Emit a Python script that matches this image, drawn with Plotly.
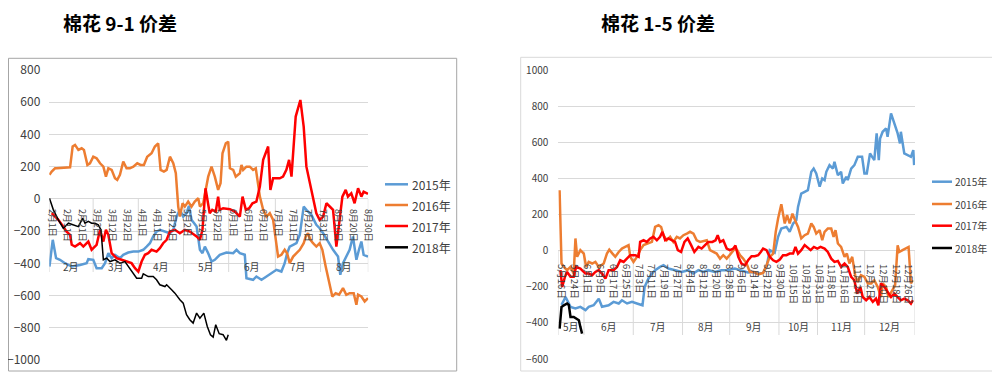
import plotly.graph_objects as go

# ---------------- data: left chart (棉花 9-1 价差), x = day offset from 2月1日 ----------------
l_date_labels = ['2月1日', '2月11日', '2月21日', '3月2日', '3月12日', '3月22日', '4月1日', '4月11日',
                 '4月21日', '5月2日', '5月12日', '5月22日', '6月1日', '6月11日', '6月21日', '7月1日',
                 '7月11日', '7月21日', '7月31日', '8月10日', '8月20日', '8月30日']
l_label_step = 10
l_months = ['2月', '3月', '4月', '5月', '6月', '7月', '8月']
l_month_edges = [-1.6, 27.5, 57.5, 87.5, 117.5, 148.5, 178.5, 210.2]

l_x_2015 = [-1.5, 0.7, 2.9, 5.5, 8.8, 13.3, 18.8, 23.2, 24.3, 27.6, 29.8, 33.2, 35.4, 37.6, 39.8, 42, 45.3,
            47.5, 50.8, 54.2, 57.5, 60.8, 63, 65.2, 67.4, 69.6, 71.8, 75.2, 78.5, 80.7, 82.9, 85.1, 87.3, 89.5,
            91.1, 92.8, 96.2, 98.4, 100.1, 101.7, 103.9, 106.1, 108.3, 111.6, 116, 120.5, 122.7, 124.9, 128.2,
            129.3, 133.7, 135.9, 139.3, 142.6, 145.9, 149.2, 152.5, 154.7, 156.3, 158, 160.3, 162.5, 164.7,
            167.3, 169.1, 172.4, 175.7, 177.9, 180.2, 183.5, 186.8, 190.1, 191.6, 193.4, 195.6, 197.8, 200,
            202.3, 204, 205.6, 207.1, 210]
l_y_2015 = [-420, -254, -368, -378, -399, -420, -410, -399, -374, -378, -430, -430, -399, -337, -368, -347,
            -368, -347, -333, -327, -327, -316, -296, -275, -233, -203, -192, -203, -213, -192, -110, -68,
            -110, -89, -43, -130, -172, -316, -337, -296, -337, -389, -378, -347, -333, -337, -316, -337,
            -347, -492, -502, -482, -502, -482, -461, -440, -451, -399, -337, -296, -285, -275, -223, -48,
            -68, -99, -161, -182, -213, -265, -316, -358, -471, -399, -358, -316, -233, -378, -316, -265,
            -347, -358]

l_x_2016 = [-1.5, 0, 2.2, 3.3, 12.2, 13.9, 15.5, 17.7, 19.9, 21.4, 23.7, 25.4, 27.6, 29.8, 32.1, 34.3, 36,
            37.6, 39.8, 42, 43.5, 45.3, 47.5, 49.7, 51.9, 54.2, 56.8, 59, 61.2, 63.4, 66.3, 68.5, 70.7, 72.3,
            74.5, 76.3, 78.5, 80.7, 82.4, 84, 85.1, 86.9, 88.4, 90.6, 92.8, 95, 97.3, 98.4, 100.6, 102.3,
            103.9, 106.1, 108.3, 110.5, 112.1, 113.4, 115.6, 117.2, 118.3, 120.5, 122.2, 124.9, 126, 127.1,
            129.3, 131.5, 133.7, 135.5, 137, 138.2, 140.4, 142.6, 144.8, 147, 148.8, 150.3, 152.5, 154.7,
            156.3, 158, 160.3, 162.5, 164.7, 167.3, 168.7, 170.2, 171.8, 173.5, 175.7, 177.9, 179.7, 181.9,
            184.6, 186.3, 188.5, 190.8, 193.4, 195.6, 197.8, 200.5, 202.3, 203.4, 205.6, 207.8, 210]
l_y_2016 = [149, 170, 190, 190, 196, 325, 335, 304, 314, 304, 211, 221, 262, 252, 221, 200, 138, 190, 180,
            128, 118, 149, 232, 190, 190, 200, 221, 211, 211, 262, 283, 325, 345, 180, 170, 180, 262, 221,
            159, -48, -110, -27, -48, -17, -48, -17, 4, -48, -27, 56, 138, 200, 138, 56, 97, 283, 345, 355,
            190, 180, 138, 159, 211, 180, 200, 200, 180, 190, 97, 14, -68, -110, -89, -130, -254, -358, -347,
            -316, -337, -399, -358, -337, -316, -275, -233, -213, -254, -275, -296, -275, -316, -420, -544,
            -606, -585, -595, -554, -595, -585, -585, -657, -595, -606, -637, -616]

l_x_2017 = [0, 4.4, 7.7, 9.9, 12.2, 13.3, 15.5, 18.8, 21, 24.3, 26.5, 29.8, 32.1, 33.2, 34.3, 36, 37.6, 39.8,
            43.1, 46.4, 49.7, 53, 55.3, 57.5, 59.7, 61.9, 64.1, 66.3, 69.6, 71.8, 74, 76.3, 78.5, 81.8, 85.1,
            88.4, 91.7, 96.2, 98.4, 100.1, 102.1, 103.4, 104.9, 106.6, 108.9, 110.5, 111.6, 113.8, 118.3,
            121.6, 124.9, 126.7, 128.9, 131.1, 133.3, 135.9, 138.2, 140.4, 143.7, 145.2, 147, 151.4, 153.6,
            155.8, 157.6, 159.2, 160.3, 162, 165.1, 167.3, 169.1, 171.3, 173.5, 175.7, 177.9, 180.2, 182.4,
            184.6, 186.8, 189, 190.8, 193, 195.2, 196.7, 198.9, 201.1, 203.4, 205.6, 207.1, 210]
l_y_2017 = [-89, -130, -172, -203, -223, -285, -296, -275, -296, -265, -316, -285, -192, -233, -265, -192,
            -223, -337, -368, -378, -389, -399, -430, -451, -389, -347, -337, -316, -327, -306, -275, -254,
            -203, -192, -213, -192, -203, -233, -254, -192, 66, -6, -89, -68, -79, 14, -68, -58, -64, -79,
            -110, 14, -68, -58, -27, -17, 76, 242, 325, 56, 128, 128, 138, 180, 242, 138, 304, 511, 614, 449,
            200, 97, 14, -89, -130, -110, -27, -48, -68, -296, -151, 14, 56, 14, 35, -27, 66, 14, 45, 31]

l_x_2018 = [-1.5, 1.1, 4.4, 7.7, 11.1, 14.4, 17.7, 20.6, 22.1, 24.3, 26.5, 28.7, 30.9, 32.7, 34.3, 36.5,
            38.7, 42, 45.3, 48.6, 51.9, 54.2, 56.4, 59.7, 60.8, 64.1, 67.4, 69.6, 71.8, 75.2, 76.3, 79.6,
            81.8, 85.1, 87.3, 89.5, 91.7, 93.9, 96.2, 98.4, 101, 103.3, 105.4, 107.2, 108.9, 111.2, 113.8,
            116, 117.2]
l_y_2018 = [4, -68, -130, -182, -151, -161, -172, -120, -151, -140, -151, -151, -161, -192, -378, -368,
            -389, -378, -399, -389, -430, -461, -492, -492, -465, -482, -482, -502, -533, -544, -533, -564,
            -585, -626, -647, -719, -750, -771, -709, -740, -709, -792, -843, -858, -781, -837, -843, -878,
            -843]

# ---------------- data: right chart (棉花 1-5 价差), x = trading-day index from 5月16日 ----------------
r_date_labels = ['5月16日', '5月24日', '6月1日', '6月9日', '6月17日', '6月25日', '7月3日', '7月11日',
                 '7月19日', '7月27日', '8月4日', '8月12日', '8月20日', '8月28日', '9月6日', '9月14日',
                 '9月22日', '9月30日', '10月15日', '10月23日', '10月31日', '11月8日', '11月16日',
                 '11月24日', '12月2日', '12月10日', '12月18日', '12月26日']
r_label_step = 6
r_months = ['5月', '6月', '7月', '8月', '9月', '10月', '11月', '12月']
r_month_edges = [-1.5, 10.5, 33.5, 56.5, 78.5, 101.5, 119.5, 141.5, 165]

r_x_2015 = [0, 1.9, 4.2, 6.5, 8.8, 11.2, 12.7, 15, 17.4, 18.9, 22, 24.3, 26.7, 28.2, 30.6, 32.9, 35.2, 37.8,
            38.8, 40.6, 42.2, 43.7, 46, 47.6, 49.9, 53, 56.1, 59.2, 61.5, 63.9, 66.2, 68.5, 71.6, 74.7, 77.8,
            80.9, 84, 87, 89.5, 92, 94.1, 95.7, 97.2, 99.5, 101.1, 102.6, 105, 106.5, 108.1, 109.6, 110.4,
            111.9, 113.5, 115, 116.6, 117.7, 118.9, 120.5, 121.7, 122.8, 123.6, 125.1, 126.7, 127.4, 129,
            130.5, 131.3, 132.9, 133.6, 135.2, 136.7, 138.3, 140.3, 141.4, 142.5, 144, 145, 146, 147.1, 148.1,
            148.7, 149.9, 151.5, 152.2, 153.8, 155.3, 156.9, 158, 158.4, 160, 161.6, 163.1, 164.2, 164.6]
r_y_2015 = [-300, -256, -311, -320, -311, -329, -311, -302, -265, -310, -302, -283, -292, -274, -292, -283,
            -292, -302, -200, -153, -126, -107, -89, -79, -98, -107, -117, -107, -126, -107, -117, -107, -117,
            -107, -107, -98, -110, -120, -117, -126, -122, -89, 4, -10, 78, 124, 133, 106, 152, 170, 244, 318,
            328, 337, 439, 457, 430, 356, 402, 393, 439, 476, 457, 494, 420, 439, 374, 411, 393, 457, 476, 522,
            522, 430, 430, 541, 522, 504, 652, 504, 624, 661, 680, 633, 763, 707, 652, 596, 661, 541, 531, 522,
            559, 476]

r_x_2016 = [-0.9, 0, 1.1, 2.6, 4.2, 5.7, 6.5, 7.3, 8.8, 10.4, 11.5, 12.7, 14.3, 15.8, 17.4, 19.7, 21.2, 22.3,
            23.8, 25.1, 26.7, 28.2, 29.7, 31.3, 32.1, 33.6, 35.2, 36.7, 38.3, 40.3, 42.2, 43.7, 45.3, 46.5,
            47.6, 49.1, 50.7, 52.2, 53.8, 55.3, 56.9, 58.5, 60, 61.6, 63.1, 64.7, 66.2, 67.8, 69.3, 70.9, 72.4,
            74, 75.5, 77.1, 79.4, 81, 82, 83.3, 84.8, 86.4, 87.9, 89.8, 91.8, 94.1, 95.7, 97.2, 98.8, 100,
            101.1, 102.6, 104.2, 105.3, 106.5, 107.8, 109.3, 110.4, 111.9, 113.5, 115, 116.6, 117.7, 118.9,
            120.5, 121.7, 122.8, 124.3, 125.9, 127, 127.9, 129, 130.5, 132.1, 133.2, 134.4, 135.7, 137.2,
            138.3, 139.8, 141.4, 143, 144.5, 146, 147.6, 149.1, 149.9, 151.5, 152.6, 154.2, 155.7, 156.9,
            157.7, 159.2, 160.8, 162, 163.1, 163.9]
r_y_2016 = [337, -70, -89, -107, -89, -126, 69, -33, 4, -15, -89, -61, -70, -61, -89, -70, -15, 7, -15, -33,
            -6, 13, 22, 32, -33, -61, -33, 4, 32, 41, 50, 133, 143, 133, 87, 59, 78, 50, 78, 69, 87, 96, 106,
            96, 59, 50, 55, 59, 4, -6, -15, -43, -24, -43, -6, 13, 4, -24, -43, -70, -117, -117, -130, -122,
            -80, -33, -15, 106, 180, 259, 152, 198, 152, 207, 161, 133, 69, 87, 96, 152, 133, 96, 115, 59, 106,
            124, 124, 78, 115, 41, 22, -33, -15, -70, -33, -144, -172, -135, -144, -181, -181, -163, -200,
            -256, -181, -200, -256, -218, -191, 31, -6, 4, 13, 22, -181, -163]

r_x_2017 = [-0.5, 0.3, 1.6, 2.6, 4.2, 5.7, 6.8, 8.8, 11.2, 12.7, 14.3, 15.8, 17.4, 18.9, 20.5, 22, 24.3, 25.9,
            27.4, 29, 30.5, 32.1, 34.4, 36, 36.7, 38.3, 39.8, 41.4, 42.9, 44.5, 46, 47.1, 48.4, 49.9, 51.5, 53,
            54.3, 55.8, 57.4, 58.9, 60.5, 62, 63.9, 65.4, 67, 68.5, 70.4, 71.9, 72.9, 74, 75.5, 77.1, 78.6,
            80.2, 81.2, 82.5, 84, 85.6, 87.1, 88.7, 90.2, 91.8, 93, 94.1, 95.7, 97.2, 98.8, 100.3, 101.9, 103.4,
            105, 106.5, 108.1, 109.2, 110.4, 111.9, 113.5, 115, 116.3, 117.8, 119.4, 120.9, 122.8, 124.3,
            125.9, 127.4, 129, 130.5, 132.1, 133.6, 135.2, 136.7, 138, 139.5, 140.6, 142.2, 143.7, 145.3,
            146.8, 147.9, 149.1, 150.7, 152.2, 153.8, 155.3, 156.9, 158.4, 160, 161.6, 163.1, 164]
r_y_2017 = [-107, -200, -144, -117, -144, -144, -89, -98, -126, -126, -135, -117, -107, -126, -154, -107,
            -107, -89, -52, -61, -43, -24, -24, -33, 50, 59, 50, 69, 78, 59, 78, 106, 59, 69, 59, 50, 4, -6,
            50, 69, 32, -6, 22, 13, 32, 50, 50, 59, 87, 50, 59, 13, 4, 13, 30, -33, -70, -80, -52, -30, -30,
            -24, -6, 13, 4, -33, -52, -61, -48, -24, -24, -15, -15, 22, -15, 4, 32, 19, 4, 22, 13, 22, 13, -6,
            -43, -61, -56, -89, -70, -89, -144, -163, -237, -200, -256, -274, -256, -283, -265, -302, -181,
            -200, -228, -256, -237, -256, -274, -265, -274, -293, -274]

r_x_2018 = [-0.9, 0, 1.1, 2.6, 3.4, 4.2, 5.7, 7.3, 8.1, 8.8, 9.6]
r_y_2018 = [-431, -311, -302, -292, -300, -367, -367, -376, -385, -422, -459]

series_names = ['2015年', '2016年', '2017年', '2018年']
series_colors = ['#5B9BD5', '#ED7D31', '#FF0000', '#000000']

# ---------------- layout helpers (page body has an 8px margin) ----------------
OFF = 8
W, H = 1000 - OFF, 375 - OFF
FONT = 'Noto Sans CJK SC'
TXT = '#404040'


def fx(p):
    return (p - OFF) / W


def fy(p):
    return 1 - (p - OFF) / H


L_DX = [fx(49.3), fx(368.3)]
L_DY = [fy(360), fy(70)]
R_DX = [fx(558.3), fx(915)]
R_DY = [fy(359), fy(70.7)]
L_YR = [-1000, 800]
R_YR = [-600, 1000]
L_XR = [l_month_edges[0], l_month_edges[-1]]
R_XR = [r_month_edges[0], r_month_edges[-1]]


def zero_pos(dom, rng):
    return dom[0] + (0 - rng[0]) / (rng[1] - rng[0]) * (dom[1] - dom[0])


fig = go.Figure()

left_sets = [(l_x_2015, l_y_2015), (l_x_2016, l_y_2016), (l_x_2017, l_y_2017), (l_x_2018, l_y_2018)]
right_sets = [(r_x_2015, r_y_2015), (r_x_2016, r_y_2016), (r_x_2017, r_y_2017), (r_x_2018, r_y_2018)]
l_widths = [2.5, 2.5, 2.5, 1.5]
r_widths = [2.5, 2.5, 2.5, 2.5]
for i, (xs, ys) in enumerate(left_sets):
    fig.add_trace(go.Scatter(x=xs, y=ys, mode='lines', name=series_names[i], xaxis='x', yaxis='y',
                             line=dict(color=series_colors[i], width=l_widths[i]), showlegend=False))
for i, (xs, ys) in enumerate(right_sets):
    fig.add_trace(go.Scatter(x=xs, y=ys, mode='lines', name=series_names[i], xaxis='x2', yaxis='y2',
                             line=dict(color=series_colors[i], width=r_widths[i]), showlegend=False))

l_mid = [(l_month_edges[i] + l_month_edges[i + 1]) / 2 for i in range(len(l_months))]
r_mid = [(r_month_edges[i] + r_month_edges[i + 1]) / 2 for i in range(len(r_months))]
l_zero = zero_pos(L_DY, L_YR)
r_zero = zero_pos(R_DY, R_YR)

date_axis = dict(showgrid=False, zeroline=False, showline=False, ticks='', tickangle=90, anchor='free')

fig.update_layout(
    width=W, height=H, margin=dict(l=0, r=0, t=0, b=0, pad=0, autoexpand=False),
    paper_bgcolor='white', plot_bgcolor='rgba(0,0,0,0)',
    showlegend=False,
    xaxis=dict(domain=L_DX, range=L_XR, position=l_zero, ticklabelstandoff=9,
               tickvals=[i * l_label_step for i in range(len(l_date_labels))], ticktext=l_date_labels,
               tickfont=dict(family=FONT, size=9, color=TXT), **date_axis),
    yaxis=dict(domain=L_DY, range=L_YR, anchor='x', tickvals=list(range(-1000, 801, 200)),
               showgrid=True, gridcolor='#D9D9D9', gridwidth=1, zeroline=False, showline=False,
               ticks='', tickfont=dict(family=FONT, size=12, color=TXT), ticklabelstandoff=8),
    xaxis2=dict(domain=R_DX, range=R_XR, position=r_zero, ticklabelstandoff=12,
                tickvals=[i * r_label_step for i in range(len(r_date_labels))], ticktext=r_date_labels,
                tickfont=dict(family=FONT, size=9.5, color=TXT), **date_axis),
    yaxis2=dict(domain=R_DY, range=R_YR, anchor='x2', tickvals=list(range(-600, 1001, 200)),
                showgrid=True, gridcolor='#D9D9D9', gridwidth=1, zeroline=False, showline=False,
                ticks='', tickfont=dict(family=FONT, size=10, color=TXT), ticklabelstandoff=9),
)

shapes = []
# chart frames
shapes.append(dict(type='rect', xref='paper', yref='paper', x0=fx(8.5), x1=fx(456.7), y0=fy(371), y1=fy(58.3),
                   line=dict(color='#A6A6A6', width=1), layer='below'))
shapes.append(dict(type='rect', xref='paper', yref='paper', x0=fx(520.7), x1=fx(995.7), y0=fy(371), y1=fy(57.3),
                   line=dict(color='#D9D9D9', width=1), layer='below'))
# month separators
for e in l_month_edges:
    shapes.append(dict(type='line', xref='x', yref='paper', x0=e, x1=e, y0=l_zero, y1=fy(272),
                       line=dict(color='#D9D9D9', width=1), layer='below'))
for e in r_month_edges:
    shapes.append(dict(type='line', xref='x2', yref='paper', x0=e, x1=e, y0=r_zero, y1=fy(335),
                       line=dict(color='#D9D9D9', width=1), layer='below'))

annotations = []
# month labels
for m, xm in zip(l_months, l_mid):
    annotations.append(dict(text=m, x=xm, y=fy(266.7), xref='x', yref='paper', showarrow=False,
                            xanchor='center', yanchor='middle', font=dict(family=FONT, size=10, color=TXT)))
for m, xm in zip(r_months, r_mid):
    annotations.append(dict(text=m, x=xm, y=fy(326.7), xref='x2', yref='paper', showarrow=False,
                            xanchor='center', yanchor='middle', font=dict(family=FONT, size=10, color=TXT)))

# legends (line sample + text)
l_leg_y = [184.3, 205, 226, 247.3]
r_leg_y = [181.7, 204, 225.7, 248]
for i in range(4):
    shapes.append(dict(type='line', xref='paper', yref='paper', x0=fx(385), x1=fx(408),
                       y0=fy(l_leg_y[i]), y1=fy(l_leg_y[i]),
                       line=dict(color=series_colors[i], width=2.5)))
    annotations.append(dict(text=series_names[i], x=fx(410), y=fy(l_leg_y[i]), xref='paper', yref='paper',
                            showarrow=False, xanchor='left', yanchor='middle',
                            font=dict(family=FONT, size=12, color=TXT)))
    shapes.append(dict(type='line', xref='paper', yref='paper', x0=fx(932), x1=fx(952),
                       y0=fy(r_leg_y[i]), y1=fy(r_leg_y[i]),
                       line=dict(color=series_colors[i], width=2.5)))
    annotations.append(dict(text=series_names[i], x=fx(953), y=fy(r_leg_y[i]), xref='paper', yref='paper',
                            showarrow=False, xanchor='left', yanchor='middle',
                            font=dict(family=FONT, size=10, color=TXT)))

# titles (top of text box at the top edge of the figure)
annotations.append(dict(text='<b>棉花 9-1 价差</b>', x=fx(120), y=1, xref='paper', yref='paper',
                        showarrow=False, xanchor='center', yanchor='top', borderpad=0,
                        font=dict(family=FONT, size=19, color='#000000')))
annotations.append(dict(text='<b>棉花 1-5 价差</b>', x=fx(658), y=1, xref='paper', yref='paper',
                        showarrow=False, xanchor='center', yanchor='top', borderpad=0,
                        font=dict(family=FONT, size=19, color='#000000')))

fig.update_layout(shapes=shapes, annotations=annotations)

fig.write_html('out.html')
